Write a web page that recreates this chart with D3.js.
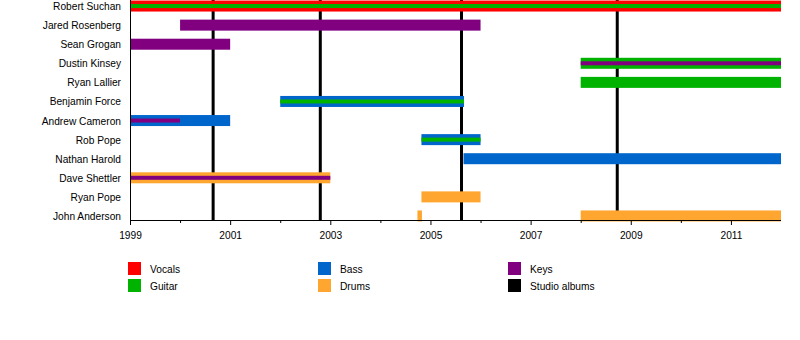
<!DOCTYPE html>
<html>
<head>
<meta charset="utf-8">
<script src="https://cdn.jsdelivr.net/npm/d3@7"></script>
<style>
  html, body { margin: 0; padding: 0; background: #fff; }
  svg { display: block; font-family: "Liberation Sans", Arial, sans-serif; }
</style>
</head>
<body>
<svg id="chart" width="800" height="340"></svg>
<script>
// Band members, top to bottom
const members = [
  "Robert Suchan", "Jared Rosenberg", "Sean Grogan", "Dustin Kinsey",
  "Ryan Lallier", "Benjamin Force", "Andrew Cameron", "Rob Pope",
  "Nathan Harold", "Dave Shettler", "Ryan Pope", "John Anderson"
];

// Main role periods: [member, role, start, end] (decimal years)
const periods = [
  ["Robert Suchan", "Vocals", 1999, 2012],
  ["Jared Rosenberg", "Keys", 2000, 2006],
  ["Sean Grogan", "Keys", 1999, 2001],
  ["Dustin Kinsey", "Guitar", 2008, 2012],
  ["Ryan Lallier", "Guitar", 2008, 2012],
  ["Benjamin Force", "Bass", 2002, 2005.67],
  ["Andrew Cameron", "Bass", 1999, 2001],
  ["Rob Pope", "Bass", 2004.82, 2006],
  ["Nathan Harold", "Bass", 2005.66, 2012],
  ["Dave Shettler", "Drums", 1999, 2003],
  ["Ryan Pope", "Drums", 2004.82, 2006],
  ["John Anderson", "Drums", 2004.74, 2004.83],
  ["John Anderson", "Drums", 2008, 2012]
];

// Secondary roles, drawn as thin lines inside the main bar
const secondary = [
  ["Robert Suchan", "Guitar", 1999, 2012],
  ["Dustin Kinsey", "Keys", 2008, 2012],
  ["Benjamin Force", "Guitar", 2002, 2005.67],
  ["Andrew Cameron", "Keys", 1999, 2000],
  ["Rob Pope", "Guitar", 2004.82, 2006],
  ["Dave Shettler", "Keys", 1999, 2003]
];

// Studio album release dates
const albums = [2000.66, 2002.8, 2005.62, 2008.73];

// Axis years
const majorYears = [1999, 2001, 2003, 2005, 2007, 2009, 2011];
const minorYears = [2000, 2002, 2004, 2006, 2008, 2010];

// Legend entries, column by column
const legendItems = ["Vocals", "Guitar", "Bass", "Drums", "Keys", "Studio albums"];

const colors = {
  "Vocals": "#ff0000",
  "Guitar": "#00b300",
  "Bass": "#0066cc",
  "Drums": "#ffa630",
  "Keys": "#800080",
  "Studio albums": "#000000"
};

const fontSize = 10.2;
const svg = d3.select("#chart");
const plotLeft = 130, plotRight = 781, plotTop = 0, plotBottom = 220;

const x = d3.scaleLinear().domain([1999, 2012]).range([plotLeft, plotRight]);
const y = d3.scaleBand().domain(members).range([-3.5, 225.5]).paddingInner(0.42).paddingOuter(0.21);

const rowH = 11, innerH = 4;
const yc = m => y(m) + y.bandwidth() / 2;

// Studio album markers (behind the bars)
svg.append("g").selectAll("line").data(albums).join("line")
  .attr("x1", d => x(d)).attr("x2", d => x(d))
  .attr("y1", plotTop).attr("y2", plotBottom)
  .attr("stroke", "#000").attr("stroke-width", 3);

// Main bars
svg.append("g").selectAll("rect").data(periods).join("rect")
  .attr("x", d => x(d[2]))
  .attr("width", d => x(d[3]) - x(d[2]))
  .attr("y", d => yc(d[0]) - rowH / 2)
  .attr("height", rowH)
  .attr("fill", d => colors[d[1]]);

// Secondary role lines
svg.append("g").selectAll("rect").data(secondary).join("rect")
  .attr("x", d => x(d[2]))
  .attr("width", d => x(d[3]) - x(d[2]))
  .attr("y", d => yc(d[0]) - innerH / 2)
  .attr("height", innerH)
  .attr("fill", d => colors[d[1]]);

// Axes
const axisG = svg.append("g").attr("transform", `translate(0,${plotBottom})`);
axisG.append("g").call(d3.axisBottom(x).tickValues(minorYears).tickSize(3).tickFormat(""))
  .call(g => g.select(".domain").remove());
axisG.append("g").call(d3.axisBottom(x).tickValues(majorYears).tickSize(5)
    .tickFormat(d3.format("d")).tickPadding(7))
  .call(g => g.select(".domain").remove())
  .selectAll("text").attr("font-size", fontSize).attr("fill", "#000")
  .attr("font-family", "Liberation Sans, Arial, sans-serif");
axisG.selectAll(".tick line").attr("stroke", "#000");
svg.append("line").attr("x1", plotLeft).attr("x2", plotRight)
  .attr("y1", plotBottom + 0.5).attr("y2", plotBottom + 0.5).attr("stroke", "#000");
svg.append("line").attr("x1", plotLeft + 0.5).attr("x2", plotLeft + 0.5)
  .attr("y1", plotTop).attr("y2", plotBottom + 1).attr("stroke", "#000");

// Member names
svg.append("g").selectAll("text").data(members).join("text")
  .attr("x", 121)
  .attr("y", d => yc(d) + 4)
  .attr("text-anchor", "end")
  .attr("font-size", fontSize)
  .attr("fill", "#000")
  .text(d => d);

// Legend: three columns of two
const legend = svg.append("g").selectAll("g").data(legendItems).join("g")
  .attr("transform", (d, i) => `translate(${128 + Math.floor(i / 2) * 190},${262 + (i % 2) * 17})`);
legend.append("rect").attr("width", 13).attr("height", 13).attr("fill", d => colors[d]);
legend.append("text").attr("x", 22).attr("y", 11).attr("font-size", fontSize).attr("fill", "#000").text(d => d);
</script>
</body>
</html>
